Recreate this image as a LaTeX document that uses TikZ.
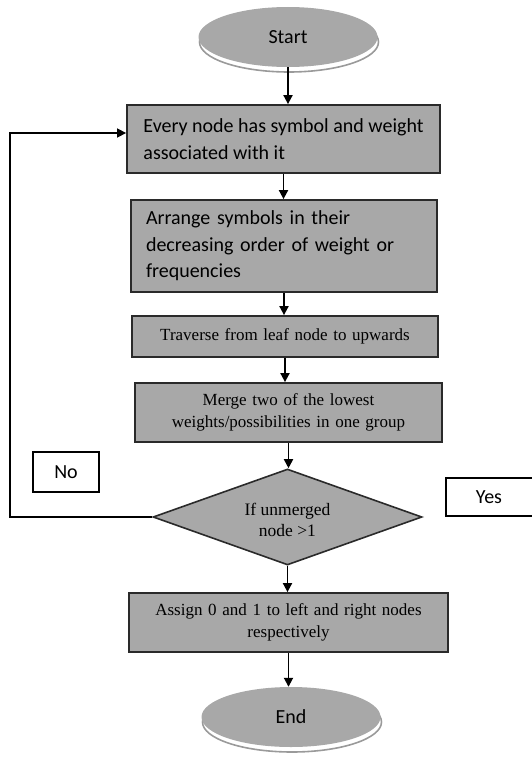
\documentclass[tikz,border=0pt]{standalone}
\usepackage{fontspec}
\setmainfont{Liberation Serif}
\newfontfamily\calfont{Carlito}
\usetikzlibrary{shapes.geometric,arrows.meta}
\definecolor{boxgray}{HTML}{A8A8A8}
\definecolor{edgegray}{HTML}{2A2A2A}
\definecolor{rimgray}{HTML}{9A9A9A}
\begin{document}
\begin{tikzpicture}[x=1pt,y=-1pt,
  box/.style={rectangle, draw=edgegray, line width=1.8pt, fill=boxgray, inner ysep=0pt},
  sansbox/.style={box, font=\calfont\fontsize{20}{26.5}\selectfont, align=left, inner xsep=15pt},
  serifbox/.style={box, font=\fontsize{17}{22}\selectfont, align=center, inner xsep=4pt},
  term/.style={ellipse, fill=boxgray, inner sep=0pt, minimum width=179pt, minimum height=60pt,
    font=\calfont\fontsize{20}{24}\selectfont,
    preaction={fill=white, draw=rimgray, line width=1.6pt, transform canvas={xshift=1pt,yshift=-5pt}}},
  decision/.style={diamond, draw=edgegray, line width=1.6pt, fill=boxgray, inner sep=0pt, aspect=2.8,
    minimum width=269pt, minimum height=96pt, align=center, font=\fontsize{17.5}{22}\selectfont},
  label/.style={rectangle, draw=black, line width=1.5pt, fill=white, inner sep=0pt,
    font=\calfont\fontsize{20}{24}\selectfont},
  arr/.style={line width=1.8pt, -{Triangle[length=9pt,width=9pt]}},
  loopline/.style={line width=1.5pt, -{Triangle[length=9pt,width=9pt]}}
]
\useasboundingbox (0,0) rectangle (531,757);

\node[term] (start) at (288,37) {Start};
\node[sansbox, minimum width=313pt, minimum height=68pt] (b1) at (283.5,139)
  {Every node has symbol and weight\\associated with it};
\node[sansbox, text width=276pt, minimum height=92pt] (b2) at (284,246)
  {Arrange symbols in their\\decreasing order of weight or\\frequencies};
\node[serifbox, text width=298pt, minimum height=41pt] (b3) at (285,336.5)
  {Traverse from leaf node to upwards};
\node[serifbox, text width=299pt, minimum height=59pt] (b4) at (288.5,412.5)
  {Merge two of the lowest\\weights/possibilities in one group};
\node[decision] (dec) at (287.5,517) {\raisebox{-9pt}[0pt][0pt]{\begin{tabular}{@{}c@{}}If unmerged\\[-1pt]node >1\end{tabular}}};
\node[serifbox, text width=311pt, minimum height=59pt] (b5) at (288.5,622.5)
  {Assign 0 and 1 to left and right nodes\\respectively};
\node[term] (end) at (291,717) {End};

\node[label, minimum width=66pt, minimum height=40pt] (no) at (66,472) {No};
\node[label, minimum width=92pt, minimum height=38pt] (yes) at (492,497) {\hspace*{-6pt}Yes};

\draw[arr] (start.south) -- (start.south |- b1.north);
\draw[arr] (b1.south) -- (b1.south |- b2.north);
\draw[arr] (b2.south) -- (b2.south |- b3.north);
\draw[arr] (b3.south) -- (b3.south |- b4.north);
\draw[arr] (b4.south) -- (b4.south |- dec.north);
\draw[arr] (dec.south) -- (dec.south |- b5.north);
\draw[arr] (b5.south) -- (b5.south |- end.north);

\coordinate (lp) at (10,517);
\coordinate (lq) at (10,133);
\draw[loopline] (dec.west) -- (lp) -- (lq) -- (lq -| b1.west);
\end{tikzpicture}
\end{document}
